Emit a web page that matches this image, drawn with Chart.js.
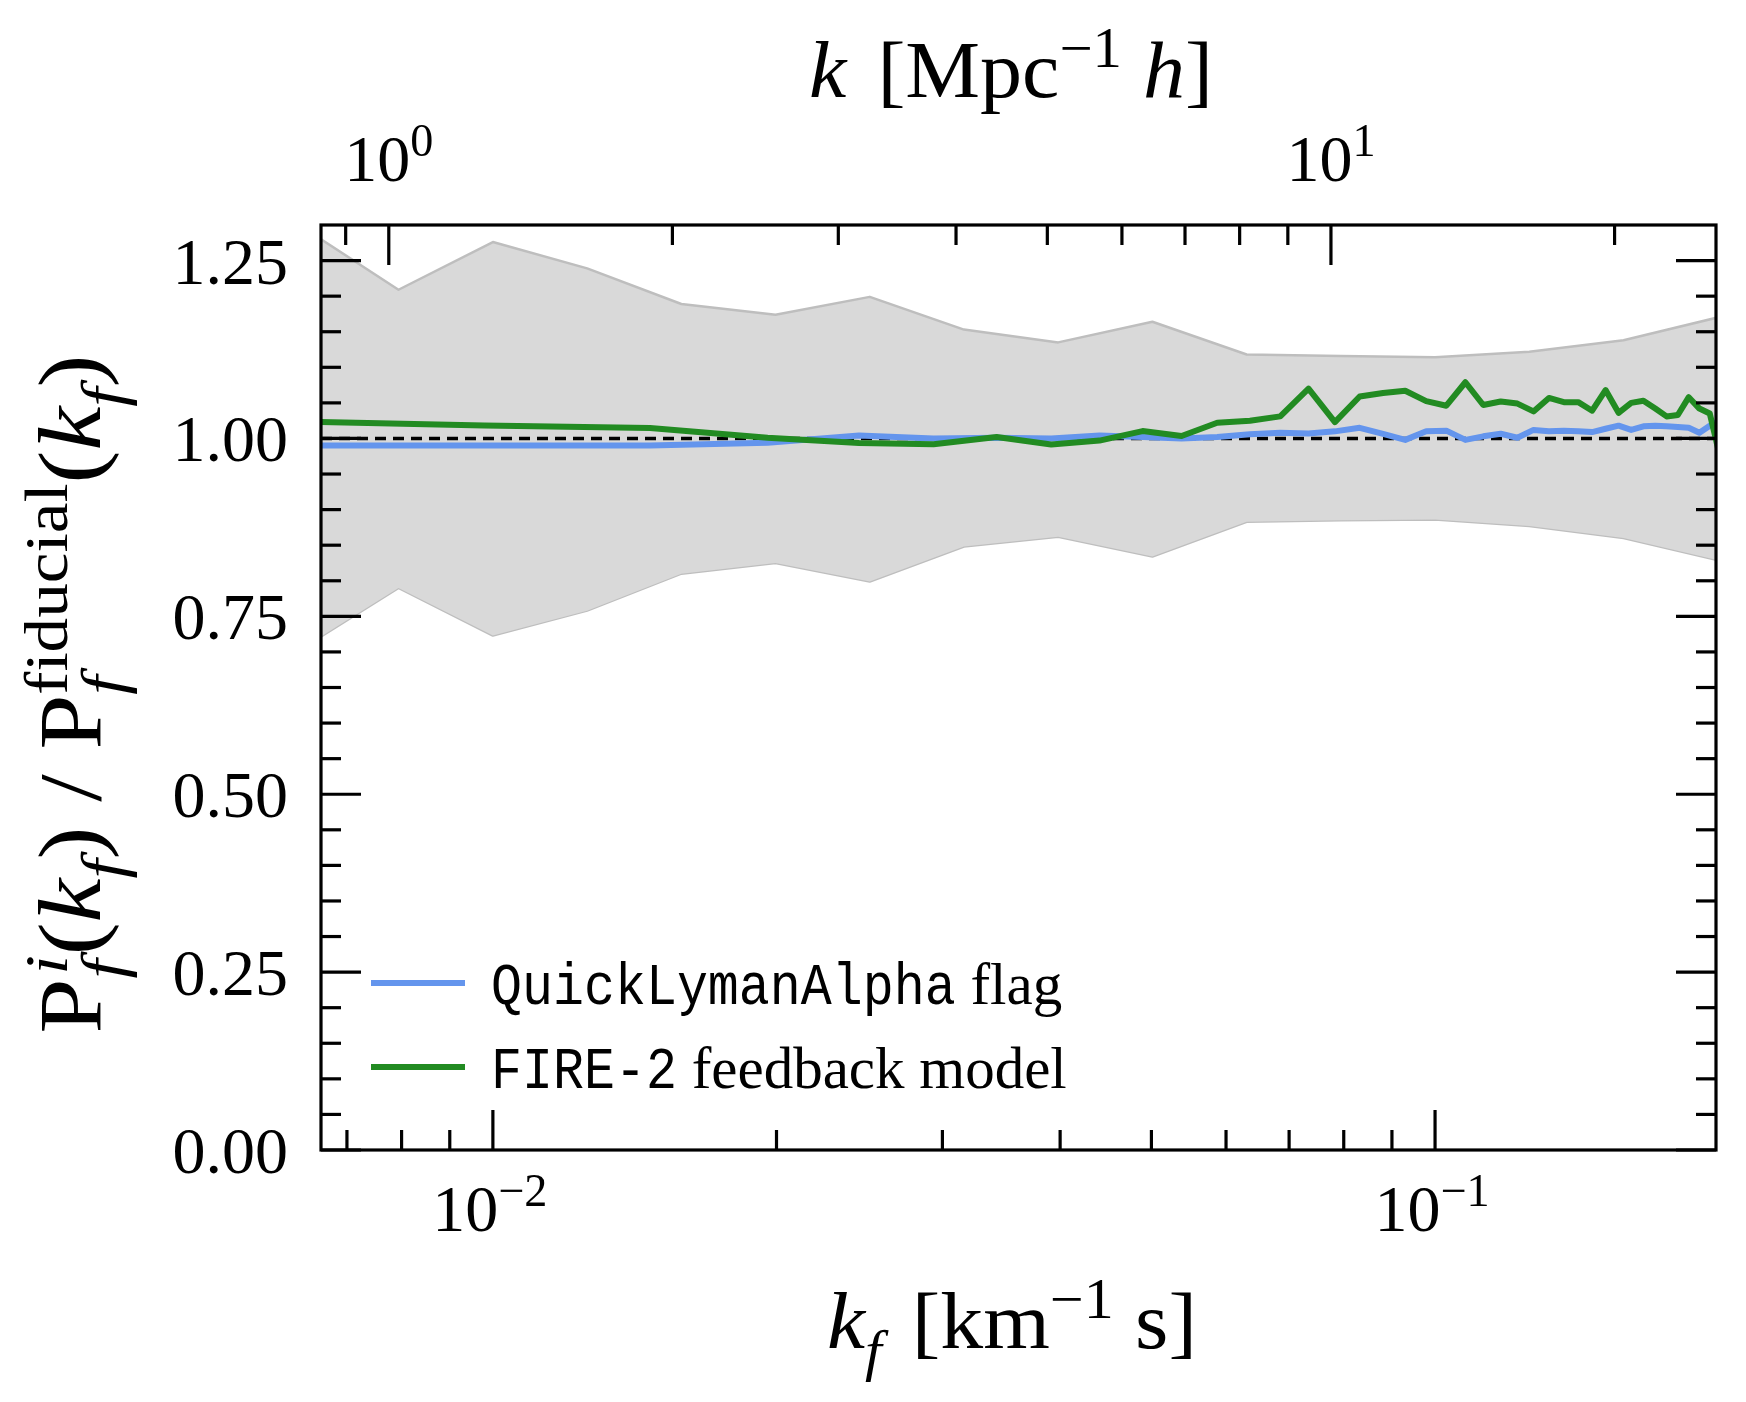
<!DOCTYPE html>
<html>
<head>
<meta charset="utf-8">
<script src="https://cdn.jsdelivr.net/npm/chart.js@4.4.1/dist/chart.umd.min.js"></script>
<style>
  html, body { margin: 0; padding: 0; background: #fff; }
  #chart { display: block; }
</style>
</head>
<body>
<canvas id="chart" width="1746" height="1402"></canvas>
<script>
// k_f of the flux power spectrum bins [km^-1 s]
const kf = [0.00489, 0.00979, 0.01468, 0.01957, 0.02447, 0.02936, 0.03425, 0.03914, 0.04404, 0.04893,
            0.05382, 0.05872, 0.06361, 0.06850, 0.07340, 0.07829, 0.08318, 0.08807, 0.09297, 0.09786,
            0.1028, 0.1077, 0.1125, 0.1174, 0.1223, 0.1272, 0.1321, 0.1370, 0.1419, 0.1468,
            0.1517, 0.1566, 0.1615, 0.1664, 0.1713, 0.1761, 0.1810, 0.1859, 0.1908, 0.1957, 0.2006];

// P_f^i / P_f^fiducial for each run
const ratioQLA = [0.990, 0.990, 0.990, 0.994, 1.004, 1.000, 1.001, 1.000, 1.004, 1.002,
                  1.000, 1.002, 1.006, 1.008, 1.007, 1.010, 1.015, 1.0065, 0.998, 1.010,
                  1.011, 0.998, 1.003, 1.0066, 1.001, 1.012, 1.010, 1.011, 1.010, 1.009,
                  1.0136, 1.018, 1.012, 1.017, 1.018, 1.017, 1.016, 1.015, 1.008, 1.018, 1.025];
const ratioFIRE = [1.0265, 1.0183, 1.0146, 1.001, 0.9935, 0.992, 1.002, 0.9916, 0.997, 1.0104,
                   1.0034, 1.022, 1.025, 1.031, 1.070, 1.023, 1.059, 1.064, 1.067, 1.0525,
                   1.046, 1.079, 1.047, 1.052, 1.049, 1.038, 1.057, 1.051, 1.051, 1.039,
                   1.068, 1.036, 1.050, 1.053, 1.042, 1.031, 1.033, 1.058, 1.042, 1.035, 0.975];

// grey band (sample variance envelope)
const kBand = [0.00631, 0.00794, 0.0100, 0.01259, 0.01585, 0.01995, 0.02512, 0.03162, 0.03981, 0.05012,
               0.0631, 0.07943, 0.1000, 0.1259, 0.1585, 0.1995];
const bandHi = [1.295, 1.209, 1.276, 1.239, 1.189, 1.174, 1.199, 1.153, 1.135, 1.164,
                1.118, 1.116, 1.114, 1.122, 1.138, 1.170];
const bandLo = [0.707, 0.790, 0.723, 0.758, 0.810, 0.825, 0.799, 0.848, 0.862, 0.834,
                0.883, 0.885, 0.886, 0.877, 0.860, 0.829];

// axes
const xRange = [0.00657, 0.1987];
const kConv = 128.97;          // k [h/Mpc] per k_f [s/km]
const yRange = [0, 1.3];
const yTicks = [0, 0.25, 0.5, 0.75, 1.0, 1.25];
const yTickLabels = ['0.00', '0.25', '0.50', '0.75', '1.00', '1.25'];
const xTicks = [0.01, 0.1];
const xTickExp = ['\u22122', '\u22121'];
const xTopTicks = [1, 10];
const xTopTickExp = ['0', '1'];

const SERIF = '"Liberation Serif", "DejaVu Serif", serif';
const MONO = '"Liberation Mono", "DejaVu Sans Mono", monospace';
const MAJ = 40, MIN = 20;

function runFont(r, size) {
  const s = size * (r.sup || r.sub ? 0.7 : 1);
  return (r.it ? 'italic ' : '') + s.toFixed(1) + 'px ' + (r.mono ? MONO : SERIF);
}

function layoutRich(ctx, runs, size) {
  let x = 0, pend = 0;
  const items = [];
  for (const r of runs) {
    const font = runFont(r, size);
    ctx.font = font;
    const w = ctx.measureText(r.t).width * (r.sx || 1);
    const dy = r.sup ? -0.38 * size : (r.sub ? 0.27 * size : 0);
    items.push({ r, x: x + (r.dx || 0) * size, dy, font });
    if (r.stack) { pend = Math.max(pend, w); }
    else { x += Math.max(w, pend) + (r.gap || 0) * size; pend = 0; }
  }
  return { items, width: x };
}

function drawRich(ctx, runs, size, x, y, align, fitW) {
  const L = layoutRich(ctx, runs, size);
  const k = fitW ? fitW / L.width : 1;
  const w = L.width * k;
  const x0 = align === 'center' ? x - w / 2 : (align === 'right' ? x - w : x);
  ctx.save();
  ctx.translate(x0, y);
  ctx.scale(k, 1);
  ctx.textBaseline = 'alphabetic';
  ctx.textAlign = 'left';
  for (const it of L.items) {
    ctx.font = it.font;
    if (it.r.sx) {
      ctx.save();
      ctx.translate(it.x, it.dy);
      ctx.scale(it.r.sx, 1);
      ctx.fillText(it.r.t, 0, 0);
      ctx.restore();
    } else {
      ctx.fillText(it.r.t, it.x, it.dy);
    }
  }
  ctx.restore();
}

function logTicks(scale) {
  const out = [];
  const e0 = Math.floor(Math.log10(scale.min)), e1 = Math.ceil(Math.log10(scale.max));
  for (let e = e0; e <= e1; e++) {
    for (let m = 1; m <= 9; m++) {
      const v = m * Math.pow(10, e);
      if (v >= scale.min && v <= scale.max) out.push([v, m === 1]);
    }
  }
  return out;
}

const frame = {
  id: 'frame',
  beforeDraw(chart) {
    const c = chart.ctx;
    c.save();
    c.fillStyle = '#fff';
    c.fillRect(0, 0, chart.width, chart.height);
    c.restore();
  },
  afterDraw(chart) {
    const c = chart.ctx, a = chart.chartArea;
    const sx = chart.scales.x, st = chart.scales.xTop, sy = chart.scales.y;
    const seg = (x1, y1, x2, y2) => { c.beginPath(); c.moveTo(x1, y1); c.lineTo(x2, y2); c.stroke(); };
    c.save();
    c.strokeStyle = '#000';
    c.fillStyle = '#000';
    c.lineWidth = 3.2;
    c.lineCap = 'butt';

    // y ticks, both sides, pointing in
    for (let i = 0; i <= 25; i++) {
      const y = sy.getPixelForValue(i * 0.05);
      const L = i % 5 === 0 ? MAJ : MIN;
      seg(a.left, y, a.left + L, y);
      seg(a.right, y, a.right - L, y);
    }
    // bottom (k_f) and top (k) ticks
    logTicks(sx).forEach(([v, maj]) => {
      const x = sx.getPixelForValue(v);
      seg(x, a.bottom, x, a.bottom - (maj ? MAJ : MIN));
    });
    logTicks(st).forEach(([v, maj]) => {
      const x = st.getPixelForValue(v);
      seg(x, a.top, x, a.top + (maj ? MAJ : MIN));
    });
    c.strokeRect(a.left, a.top, a.right - a.left, a.bottom - a.top);

    // tick labels
    const TF = 66;
    yTicks.forEach((v, i) => {
      drawRich(c, [{ t: yTickLabels[i] }], TF, a.left - 33, sy.getPixelForValue(v) + 23, 'right');
    });
    xTicks.forEach((v, i) => {
      drawRich(c, [{ t: '10' }, { t: xTickExp[i], sup: 1 }], TF, sx.getPixelForValue(v) - 3, a.bottom + 81, 'center');
    });
    xTopTicks.forEach((v, i) => {
      drawRich(c, [{ t: '10' }, { t: xTopTickExp[i], sup: 1 }], TF, st.getPixelForValue(v), a.top - 44, 'center');
    });

    // axis titles
    const LF = 80;
    drawRich(c, [{ t: 'k', it: 1, gap: 0.12 }, { t: ' [Mpc' }, { t: '\u22121', sup: 1 }, { t: ' ' }, { t: 'h', it: 1 }, { t: ']' }],
             LF, 1011, 97, 'center', 404);
    drawRich(c, [{ t: 'k', it: 1 }, { t: 'f', it: 1, sub: 1, gap: 0.1 }, { t: ' [km' }, { t: '\u22121', sup: 1 }, { t: ' s]' }],
             LF, 1012, 1348, 'center', 370);
    c.save();
    c.translate(100, 694);
    c.rotate(-Math.PI / 2);
    drawRich(c, [{ t: 'P' }, { t: 'i', it: 1, sup: 1, stack: 1, dx: 0.04 }, { t: 'f', it: 1, sub: 1, gap: 0.04 },
                 { t: '(' }, { t: 'k', it: 1 }, { t: 'f', it: 1, sub: 1 }, { t: ') / P' },
                 { t: 'fiducial', sup: 1, stack: 1 }, { t: 'f', it: 1, sub: 1 },
                 { t: '(' }, { t: 'k', it: 1 }, { t: 'f', it: 1, sub: 1 }, { t: ')' }],
             88, 0, 0, 'center', 679);
    c.restore();

    // legend
    const legend = [
      { color: '#6495ED', runs: [{ t: 'QuickLymanAlpha', mono: 1, sx: 0.875 }, { t: ' flag' }], y: 983 },
      { color: '#228B22', runs: [{ t: 'FIRE-2', mono: 1, sx: 0.875 }, { t: ' feedback model' }], y: 1067 }
    ];
    legend.forEach(e => {
      c.strokeStyle = e.color;
      c.lineWidth = 6;
      seg(371, e.y, 465, e.y);
      c.fillStyle = '#000';
      drawRich(c, e.runs, 59, 491, e.y + 21, 'left');
    });
    c.restore();
  }
};

const pts = (xs, ys) => xs.map((x, i) => ({ x, y: ys[i] }));

new Chart(document.getElementById('chart').getContext('2d'), {
  type: 'line',
  data: {
    datasets: [
      { label: 'FIRE-2 feedback model', data: pts(kf, ratioFIRE), borderColor: '#228B22',
        borderWidth: 6, order: 0 },
      { label: 'QuickLymanAlpha flag', data: pts(kf, ratioQLA), borderColor: '#6495ED',
        borderWidth: 6, order: 1 },
      { label: 'fiducial', data: pts(xRange, [1, 1]), borderColor: '#000',
        borderWidth: 3.4, borderDash: [11, 7], order: 2 },
      { label: 'band high', data: pts(kBand, bandHi), borderColor: '#bebebe', borderWidth: 2.5,
        backgroundColor: '#d9d9d9', fill: '+1', order: 3 },
      { label: 'band low', data: pts(kBand, bandLo), borderColor: '#bebebe', borderWidth: 2.5,
        order: 4 }
    ]
  },
  options: {
    responsive: false,
    animation: false,
    devicePixelRatio: 1,
    layout: { padding: { left: 321, right: 30, top: 225, bottom: 252 } },
    elements: {
      point: { radius: 0 },
      line: { tension: 0, fill: false, borderJoinStyle: 'round' }
    },
    plugins: { legend: { display: false }, tooltip: { enabled: false } },
    scales: {
      x: { type: 'logarithmic', min: xRange[0], max: xRange[1], display: false },
      xTop: { type: 'logarithmic', position: 'top', min: xRange[0] * kConv, max: xRange[1] * kConv, display: false },
      y: { type: 'linear', min: yRange[0], max: yRange[1], display: false }
    }
  },
  plugins: [frame]
});
</script>
</body>
</html>
